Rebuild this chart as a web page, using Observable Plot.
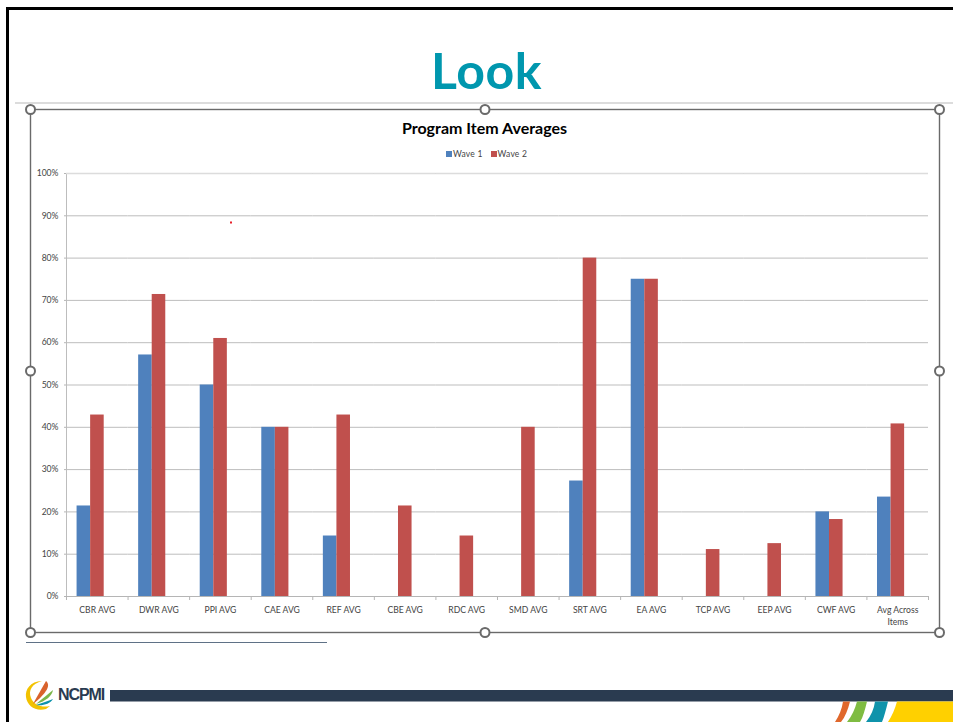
<!DOCTYPE html>
<html>
<head>
<meta charset="utf-8">
<script src="https://cdn.jsdelivr.net/npm/d3@7"></script>
<script src="https://cdn.jsdelivr.net/npm/@observablehq/plot@0.6"></script>
<style>
  html, body { margin: 0; padding: 0; background: #fff; overflow: hidden; }
  #slide { position: relative; width: 953px; height: 722px; overflow: hidden; background: #fff; font-family: Lato, sans-serif; }
  #slide > * { position: absolute; }
  #heading { left: 0; width: 973px; top: 37px; text-align: center; font: 700 50px/66px Lato, sans-serif; color: #0097ae; letter-spacing: 0.5px; }
  #chartTitle { left: 30px; width: 909px; top: 119px; text-align: center; font: 700 16px/18px Lato, sans-serif; color: #000; }
  #legend { left: 446px; top: 147px; font: 8.5px/14px Lato, sans-serif; letter-spacing: 0.2px; color: #444; white-space: nowrap; }
  #legend i { display: inline-block; width: 6px; height: 6px; margin-right: 1px; }
  #legend span { margin-right: 8px; }
  #brand { left: 58px; top: 685px; font: 700 16px/20px "Liberation Sans", sans-serif; letter-spacing: -1.1px; color: #2a3b50; }
</style>
</head>
<body>
<div id="slide">
  <svg id="decor" width="953" height="722" style="left:0;top:0">
    <rect x="7.5" y="8.5" width="960" height="730" fill="none" stroke="#000" stroke-width="3"/>
    <line x1="15" x2="953" y1="103" y2="103" stroke="#d0d0d0" stroke-width="1.5"/>
    <rect x="30.5" y="109.5" width="909" height="523" fill="none" stroke="#6a6a6a" stroke-width="1.4"/>
    <line x1="26" x2="327" y1="642.5" y2="642.5" stroke="#5f7186" stroke-width="1"/>
    <line x1="66.5" x2="66.5" y1="173" y2="597" stroke="#bdbdbd" stroke-width="1"/>
    <rect x="110" y="690" width="843" height="11.5" fill="#2a3b50"/>
    <g fill="#fff" stroke="#6a6a6a" stroke-width="2">
      <circle cx="30.5" cy="109.5" r="4.5"/><circle cx="485" cy="109.5" r="4.5"/><circle cx="939.5" cy="109.5" r="4.5"/>
      <circle cx="30.5" cy="371" r="4.5"/><circle cx="939.5" cy="371" r="4.5"/>
      <circle cx="30.5" cy="632.5" r="4.5"/><circle cx="485" cy="632.5" r="4.5"/><circle cx="939.5" cy="632.5" r="4.5"/>
    </g>
    <rect x="230" y="221.5" width="2" height="2" fill="#e8202a"/>
    <!-- emblem beside the wordmark -->
    <path d="M42 681 C30 681 25 690 26 697 C27 706 36 712 46 709 L50 706 C42 708 34 705 31 698 C28 690 32 684 42 681Z" fill="#f2c200"/>
    <path d="M46 681 C51 685 47 693 33 704 C38 695 42 688 46 681Z" fill="#d9622b"/>
    <path d="M53 690 C52 696 46 701 36 704 C42 699 48 694 53 690Z" fill="#7ab648"/>
    <path d="M53 699 C50 704 43 706 36 705 C42 703 48 701 53 699Z" fill="#0f93ab"/>
    <!-- colour sweep at the foot of the slide -->
    <path d="M843 701.5 H850 C848 710 845 717 841 722 H835 C839 716 842 709 843 701.5Z" fill="#e0682c"/>
    <path d="M857 701.5 H867 C865 710 863 717 860 722 H847 C852 716 855 709 857 701.5Z" fill="#7fbc42"/>
    <path d="M875 701.5 H888 C886 710 884 717 882 722 H866 C871 716 874 709 875 701.5Z" fill="#0f93ab"/>
    <path d="M897 701.5 H953 V722 H888 C892 716 895 709 897 701.5Z" fill="#ffd000"/>
  </svg>
  <div id="heading">Look</div>
  <div id="chartTitle">Program Item Averages</div>
  <div id="legend"></div>
  <div id="brand">NCPMI</div>
</div>
<script>
// Average score per program item, in percent, for each survey wave.
const categories = ["CBR AVG", "DWR AVG", "PPI AVG", "CAE AVG", "REF AVG", "CBE AVG", "RDC AVG",
  "SMD AVG", "SRT AVG", "EA AVG", "TCP AVG", "EEP AVG", "CWF AVG", "Avg Across\nItems"];
const wave1 = [21.4, 57.1, 50, 40, 14.3, null, null, null, 27.3, 75, null, null, 20, 23.5];
const wave2 = [42.9, 71.4, 61, 40, 42.9, 21.4, 14.3, 40, 80, 75, 11.1, 12.5, 18.2, 40.8];
const waves = ["Wave 1", "Wave 2"];
const waveColors = ["#4f81bd", "#c0504d"];
const yTicks = d3.range(0, 101, 10);

const rows = categories.flatMap((category, i) => [
  {category, wave: waves[0], value: wave1[i]},
  {category, wave: waves[1], value: wave2[i]}
]).filter(d => d.value != null);

const axisColor = "#b5b5b5";
const labelColor = "#444";

const chart = Plot.plot({
  width: 953,
  height: 722,
  marginLeft: 66,
  marginRight: 25,
  marginTop: 173,
  marginBottom: 126,
  style: {background: "transparent", fontFamily: "Lato, sans-serif", fontSize: "8.6px"},
  fx: {domain: categories, padding: 0, round: false, label: null},
  // Each pair of bars sits a little left of its category's centre.
  x: {domain: waves, paddingInner: 0, paddingOuter: 1.27, align: 0.307, round: false, axis: null},
  y: {domain: [0, 100], label: null},
  color: {domain: waves, range: waveColors},
  marks: [
    Plot.gridY(yTicks, {stroke: "#bdbdbd", strokeOpacity: 1, strokeWidth: 1}),
    Plot.ruleY([100], {stroke: "#dcdcdc", strokeWidth: 1.5}),
    Plot.barY(rows, {fx: "category", x: "wave", y: "value", fill: "wave"}),
    Plot.axisY({ticks: yTicks, tickFormat: d => d + "%", tickSize: 2, tickPadding: 6, stroke: axisColor, fill: labelColor, label: null}),
    Plot.ruleY([0], {stroke: axisColor}),
    Plot.axisFx({anchor: "bottom", tickSize: 0, tickPadding: 8, fill: labelColor, lineHeight: 1.4, label: null}),
    // Tick marks sit on the category boundaries, hence the half-band shift.
    Plot.axisFx({anchor: "bottom", tickSize: 4, tickFormat: null, dx: -30.8, stroke: axisColor, label: null}),
    Plot.axisFx({anchor: "bottom", ticks: categories.slice(-1), tickSize: 4, tickFormat: null, dx: 30.8, stroke: axisColor, label: null})
  ]
});
chart.style.left = "0";
chart.style.top = "0";
document.getElementById("slide").insertBefore(chart, document.getElementById("heading"));

// Legend entries reuse the colours of the chart's colour scale.
const colorScale = chart.scale("color");
document.getElementById("legend").innerHTML = waves
  .map(w => `<span><i style="background:${colorScale.apply(w)}"></i>${w}</span>`)
  .join("");
</script>
</body>
</html>
